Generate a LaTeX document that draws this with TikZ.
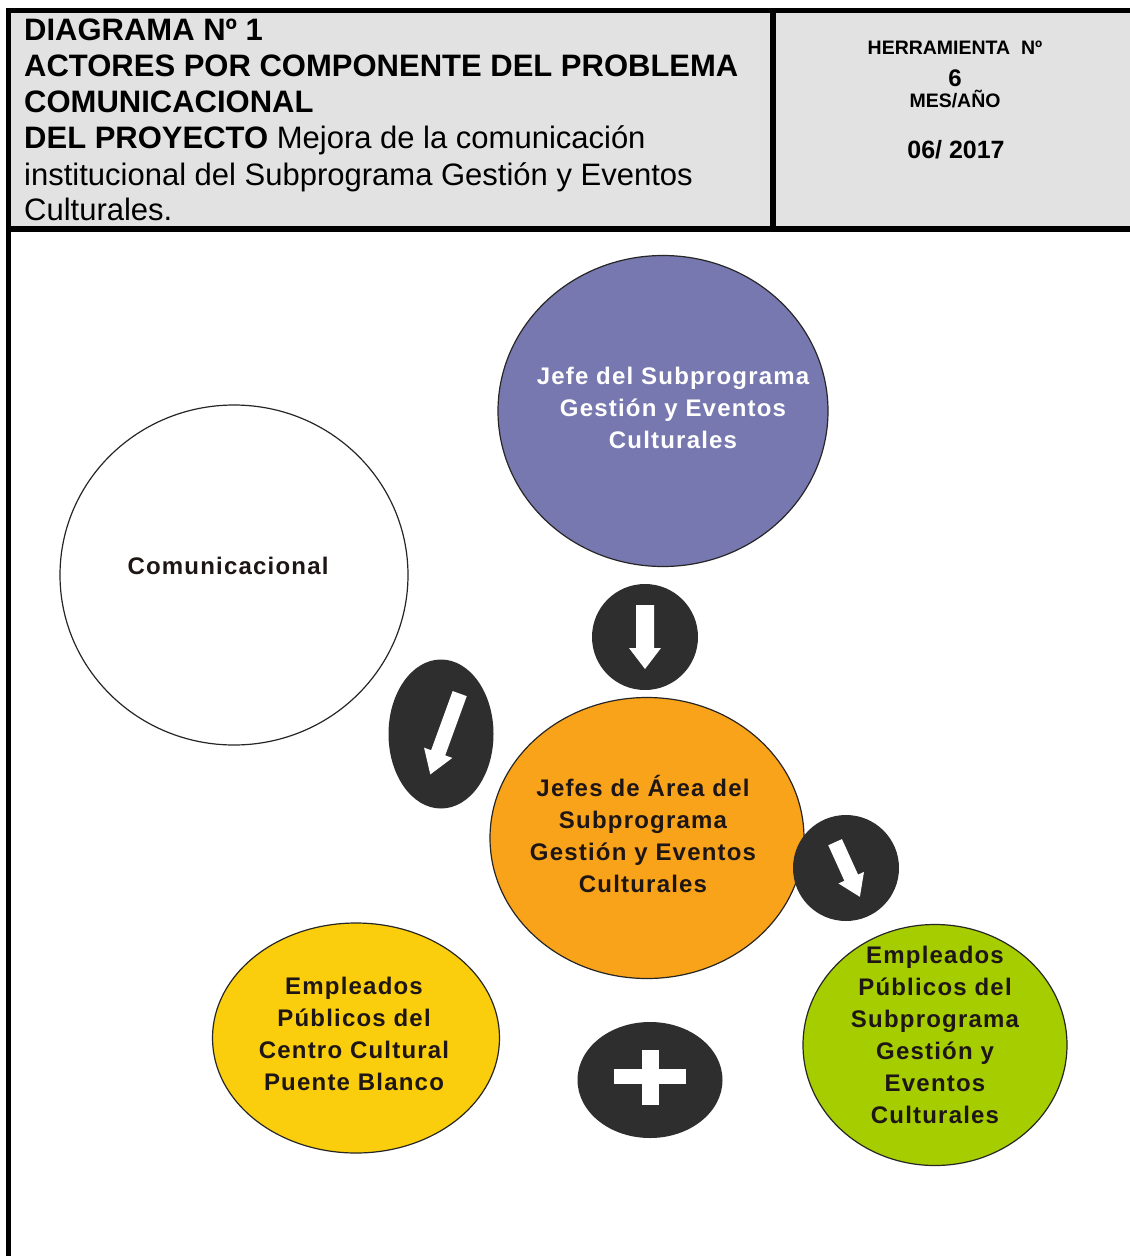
\documentclass[tikz,border=0pt]{standalone}
\usepackage{fontspec}
\setmainfont{Liberation Sans}
\usetikzlibrary{shapes.geometric}
\definecolor{hdrgray}{RGB}{226,226,226}
\definecolor{cpurple}{RGB}{120,120,176}
\definecolor{corange}{RGB}{249,163,26}
\definecolor{cyellow}{RGB}{250,206,12}
\definecolor{cgreen}{RGB}{166,205,0}
\definecolor{cdark}{RGB}{46,46,46}
\definecolor{ctext}{RGB}{30,22,20}
\begin{document}
\begin{tikzpicture}[x=1pt,y=-1pt,
  hdrtext/.style={font=\fontsize{31}{36}\selectfont, anchor=base west, inner sep=0pt},
  hdrright/.style={font=\bfseries\fontsize{19.5}{22}\selectfont, anchor=base, inner sep=0pt},
  bubble/.style={ellipse, draw=black!85, line width=1.2pt, inner sep=0pt},
  darkdot/.style={ellipse, fill=cdark, draw=none, inner sep=0pt},
  bubtext/.style={font=\bfseries\fontsize{24}{32}\selectfont\addfontfeature{LetterSpace=5}, align=center, text=ctext, inner sep=0pt}
]
\useasboundingbox (0,0) rectangle (1130,1256);
\fill[white] (0,0) rectangle (1130,1256);
% header
\fill[hdrgray] (8,8) rectangle (1130,229);
\draw[line width=5pt] (8.5,1256) -- (8.5,10.5) -- (1130,10.5);
\draw[line width=6pt] (8.5,229) -- (1130,229);
\draw[line width=6pt] (773,10.5) -- (773,229);

\node[hdrtext] (h1) at (24,40) {\textbf{DIAGRAMA Nº 1}};
\node[hdrtext] (h2) at (24,76) {\textbf{ACTORES POR COMPONENTE DEL PROBLEMA}};
\node[hdrtext] (h3) at (24,112) {\textbf{COMUNICACIONAL}};
\node[hdrtext] (h4) at (24,148) {\textbf{DEL PROYECTO} Mejora de la comunicación};
\node[hdrtext] (h5) at (24,185) {institucional del Subprograma Gestión y Eventos};
\node[hdrtext] (h6) at (24,220) {Culturales.};

\node[hdrright] (r1) at (955,54) {HERRAMIENTA\ \ Nº};
\node[hdrright, font=\bfseries\fontsize{24}{26}\selectfont] (r2) at (955,86) {6};
\node[hdrright] (r3) at (955,107) {MES/AÑO};
\node[hdrright, font=\bfseries\fontsize{25}{28}\selectfont] (r4) at (956,158) {06/ 2017};

% bubbles
\node[bubble, fill=cpurple, minimum width=330pt, minimum height=311pt] (jefe) at (663,411) {};
\node[bubtext, text=white] (jefet) at (673,408) {Jefe del Subprograma\\Gestión y Eventos\\Culturales};

\node[bubble, fill=white, minimum width=348pt, minimum height=340pt] (com) at (234,575) {};
\node[bubtext] (comt) at (228,566) {Comunicacional};

\node[bubble, fill=corange, minimum width=314pt, minimum height=281pt] (area) at (647,838) {};
\node[bubtext] (areat) at (643,834) {Jefes de Área del\\Subprograma\\Gestión y Eventos\\Culturales};

\node[bubble, fill=cyellow, minimum width=287pt, minimum height=230pt] (cc) at (356,1038) {};
\node[bubtext] (cct) at (354,1034) {Empleados\\Públicos del\\Centro Cultural\\Puente Blanco};

\node[bubble, fill=cgreen, minimum width=264pt, minimum height=241pt] (emp) at (935,1045) {};
\node[bubtext] (empt) at (935,1035) {Empleados\\Públicos del\\Subprograma\\Gestión y\\Eventos\\Culturales};

% dark arrow dots
\node[darkdot, minimum width=106pt, minimum height=106pt] (dn) at (645,637) {};
\node[darkdot, minimum width=105pt, minimum height=149pt] (dl) at (441,734) {};
\node[darkdot, minimum width=106pt, minimum height=106pt] (dr) at (846,868) {};
\node[darkdot, minimum width=145pt, minimum height=116pt] (pl) at (650,1080) {};

\begin{scope}[shift={(dn.center)}, rotate=-90]
  \fill[white] (-32pt,-9pt) -- (11pt,-9pt) -- (11pt,-16pt) -- (32pt,0pt)
     -- (11pt,16pt) -- (11pt,9pt) -- (-32pt,9pt) -- cycle;
\end{scope}
\begin{scope}[shift={(dl.center)}, xshift=4pt, rotate=250]
  \fill[white] (-43pt,-7.5pt) -- (20pt,-7.5pt) -- (20pt,-15pt) -- (43pt,0pt)
     -- (20pt,15pt) -- (20pt,7.5pt) -- (-43pt,7.5pt) -- cycle;
\end{scope}
\begin{scope}[shift={(dr.center)}, xshift=1.5pt, yshift=-1.5pt, rotate=-65.6]
  \fill[white] (-30pt,-7.5pt) -- (9pt,-7.5pt) -- (9pt,-14pt) -- (30pt,0pt)
     -- (9pt,14pt) -- (9pt,7.5pt) -- (-30pt,7.5pt) -- cycle;
\end{scope}
\begin{scope}[shift={(pl.center)}]
  \fill[white] (-36pt,-4pt) rectangle (36pt,11pt);
  \fill[white] (-8.5pt,-25pt) rectangle (8.5pt,30pt);
\end{scope}
\end{tikzpicture}
\end{document}
